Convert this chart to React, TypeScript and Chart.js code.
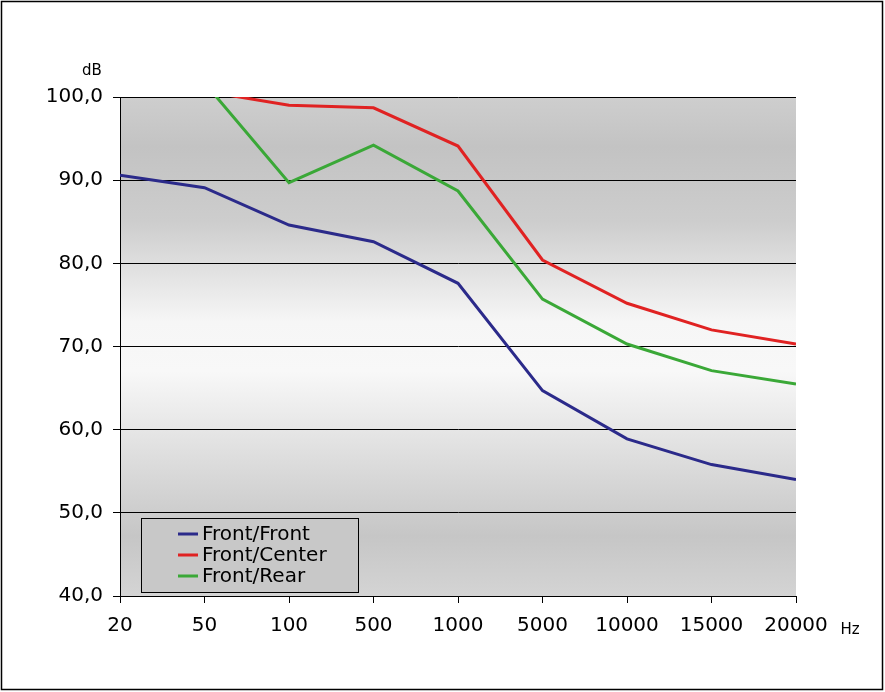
import React, { useEffect, useRef } from "react";
import { Chart, registerables } from "chart.js";

Chart.register(...registerables);

const categories = ["20", "50", "100", "500", "1000", "5000", "10000", "15000", "20000"];
const frontFront = [90.6, 89.1, 84.6, 82.6, 77.6, 64.7, 58.9, 55.8, 54.0];
const frontCenter = [102.5, 100.7, 99.0, 98.7, 94.1, 80.4, 75.2, 72.0, 70.3];
const frontRear = [104.0, 101.7, 89.7, 94.2, 88.7, 75.7, 70.3, 67.1, 65.5];
const seriesLabels = ["Front/Front", "Front/Center", "Front/Rear"];
const seriesColors = ["#2b2a8a", "#e02222", "#3aa837"];
const yMin = 40;
const yMax = 100;
const yStep = 10;
const yUnit = "dB";
const xUnit = "Hz";

const FONT = "'DejaVu Sans', sans-serif";

const bgPlugin = {
  id: "bgPlugin",
  beforeDraw(chart: any) {
    const { ctx, chartArea: a, width, height } = chart;
    ctx.save();
    ctx.fillStyle = "#ffffff";
    ctx.fillRect(0, 0, width, height);
    const g = ctx.createLinearGradient(0, a.top, 0, a.bottom);
    g.addColorStop(0, "#cecece");
    g.addColorStop(0.1, "#c3c3c3");
    g.addColorStop(0.25, "#cdcdcd");
    g.addColorStop(0.45, "#f6f6f6");
    g.addColorStop(0.55, "#f8f8f8");
    g.addColorStop(0.72, "#dedede");
    g.addColorStop(0.88, "#c6c6c6");
    g.addColorStop(1, "#d4d4d4");
    ctx.fillStyle = g;
    ctx.fillRect(a.left, a.top, a.right - a.left, a.bottom - a.top);
    ctx.restore();
  },
};

const overlayPlugin = {
  id: "overlayPlugin",
  afterDraw(chart: any) {
    const { ctx, width, height } = chart;
    ctx.save();
    ctx.strokeStyle = "#000";
    ctx.lineWidth = 1.5;
    ctx.strokeRect(1.5, 1.5, width - 4, height - 4);
    ctx.fillStyle = "#000";
    ctx.font = `15px ${FONT}`;
    ctx.textBaseline = "middle";
    ctx.textAlign = "center";
    ctx.fillText(yUnit, 92, 71);
    ctx.fillText(xUnit, 850, 630);
    const bx = 141.5, by = 518.5, bw = 217, bh = 74;
    ctx.fillStyle = "#c8c8c8";
    ctx.fillRect(bx, by, bw, bh);
    ctx.strokeStyle = "#000";
    ctx.lineWidth = 1;
    ctx.strokeRect(bx, by, bw, bh);
    ctx.font = `20px ${FONT}`;
    ctx.textAlign = "left";
    chart.data.datasets.forEach((ds: any, i: number) => {
      const y = 534 + i * 21;
      ctx.strokeStyle = ds.borderColor;
      ctx.lineWidth = 3;
      ctx.beginPath();
      ctx.moveTo(178, y);
      ctx.lineTo(198, y);
      ctx.stroke();
      ctx.fillStyle = "#000";
      ctx.fillText(ds.label, 202, y + 1);
    });
    ctx.restore();
  },
};

export default function App() {
  const ref = useRef<HTMLCanvasElement | null>(null);
  useEffect(() => {
    document.body.style.margin = "0";
    const canvas = ref.current!;
    const series = [frontFront, frontCenter, frontRear];
    const chart = new Chart(canvas, {
      type: "line",
      data: {
        labels: categories,
        datasets: series.map((d, i) => ({
          label: seriesLabels[i],
          data: d,
          borderColor: seriesColors[i],
          backgroundColor: seriesColors[i],
          borderWidth: 3,
          pointRadius: 0,
          tension: 0,
          clip: 0,
        })),
      },
      options: {
        responsive: false,
        animation: false,
        devicePixelRatio: 1,
        layout: { padding: { left: 0, right: 89, top: 97, bottom: 0 } },
        plugins: { legend: { display: false }, tooltip: { enabled: false } },
        scales: {
          x: {
            offset: false,
            afterFit(scale: any) {
              scale.height = 96;
            },
            grid: { drawOnChartArea: false, drawTicks: true, tickLength: 7, color: "#000", lineWidth: 1 },
            border: { display: true, color: "#000", width: 1 },
            ticks: { color: "#000", font: { family: FONT, size: 20 }, padding: 11, maxRotation: 0, autoSkip: false },
          },
          y: {
            min: yMin,
            max: yMax,
            afterFit(scale: any) {
              scale.width = 120;
            },
            grid: { color: "#000", lineWidth: 1, tickLength: 7, drawTicks: true },
            border: { display: true, color: "#000", width: 1 },
            ticks: {
              stepSize: yStep,
              color: "#000",
              font: { family: FONT, size: 20 },
              padding: 10,
              callback: (v: any) => Number(v).toFixed(1).replace(".", ","),
            },
          },
        },
      },
      plugins: [bgPlugin, overlayPlugin],
    });
    return () => chart.destroy();
  }, []);
  return (
    <div style={{ width: 885, height: 692 }}>
      <canvas ref={ref} width={885} height={692} style={{ display: "block" }} />
    </div>
  );
}
